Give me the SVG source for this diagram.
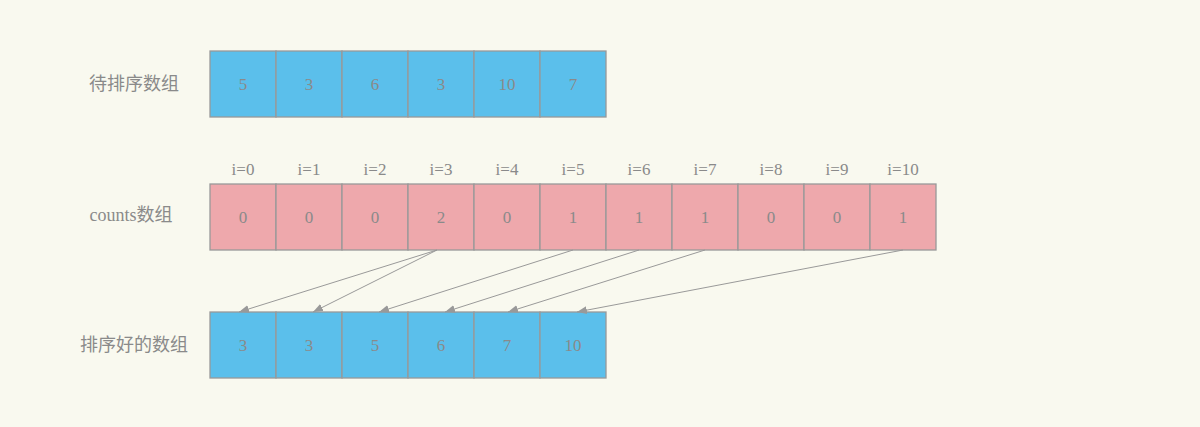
<svg xmlns="http://www.w3.org/2000/svg" width="1200" height="427" viewBox="0 0 1200 427">
<defs>
<marker id="arr" viewBox="0 0 10 10" refX="10" refY="5" markerWidth="10" markerHeight="10" markerUnits="userSpaceOnUse" orient="auto">
<path d="M0,1 L10,5 L0,9 Z" fill="#999999"/>
</marker>
<style>
.b{fill:#5BBFEB;stroke:#999999;stroke-width:1.3}
.p{fill:#EEA8AC;stroke:#999999;stroke-width:1.3}
.t{font-family:"Liberation Serif","Noto Sans CJK SC",serif;font-size:17px;fill:#8a8a8a;text-anchor:middle;dominant-baseline:central}
.l{font-family:"Liberation Serif","Noto Sans CJK SC",serif;font-size:18px;fill:#8a8a8a;text-anchor:middle;dominant-baseline:central}
.c{stroke:#999999;stroke-width:1;fill:none;marker-end:url(#arr)}
</style>
</defs>
<rect width="1200" height="427" fill="#F9F9EF"/>
<text class="l" x="134" y="84">待排序数组</text>
<text class="l" x="131" y="215">counts数组</text>
<text class="l" x="134" y="345">排序好的数组</text>
<g id="input">
<rect class="b" x="210" y="51" width="66" height="66"/><text class="t" x="243" y="84">5</text>
<rect class="b" x="276" y="51" width="66" height="66"/><text class="t" x="309" y="84">3</text>
<rect class="b" x="342" y="51" width="66" height="66"/><text class="t" x="375" y="84">6</text>
<rect class="b" x="408" y="51" width="66" height="66"/><text class="t" x="441" y="84">3</text>
<rect class="b" x="474" y="51" width="66" height="66"/><text class="t" x="507" y="84">10</text>
<rect class="b" x="540" y="51" width="66" height="66"/><text class="t" x="573" y="84">7</text>
</g>
<g id="counts">
<text class="t" x="243" y="169">i=0</text>
<text class="t" x="309" y="169">i=1</text>
<text class="t" x="375" y="169">i=2</text>
<text class="t" x="441" y="169">i=3</text>
<text class="t" x="507" y="169">i=4</text>
<text class="t" x="573" y="169">i=5</text>
<text class="t" x="639" y="169">i=6</text>
<text class="t" x="705" y="169">i=7</text>
<text class="t" x="771" y="169">i=8</text>
<text class="t" x="837" y="169">i=9</text>
<text class="t" x="903" y="169">i=10</text>
<rect class="p" x="210" y="184" width="66" height="66"/><text class="t" x="243" y="217">0</text>
<rect class="p" x="276" y="184" width="66" height="66"/><text class="t" x="309" y="217">0</text>
<rect class="p" x="342" y="184" width="66" height="66"/><text class="t" x="375" y="217">0</text>
<rect class="p" x="408" y="184" width="66" height="66"/><text class="t" x="441" y="217">2</text>
<rect class="p" x="474" y="184" width="66" height="66"/><text class="t" x="507" y="217">0</text>
<rect class="p" x="540" y="184" width="66" height="66"/><text class="t" x="573" y="217">1</text>
<rect class="p" x="606" y="184" width="66" height="66"/><text class="t" x="639" y="217">1</text>
<rect class="p" x="672" y="184" width="66" height="66"/><text class="t" x="705" y="217">1</text>
<rect class="p" x="738" y="184" width="66" height="66"/><text class="t" x="771" y="217">0</text>
<rect class="p" x="804" y="184" width="66" height="66"/><text class="t" x="837" y="217">0</text>
<rect class="p" x="870" y="184" width="66" height="66"/><text class="t" x="903" y="217">1</text>
</g>
<g id="sorted">
<rect class="b" x="210" y="312" width="66" height="66"/><text class="t" x="243" y="345">3</text>
<rect class="b" x="276" y="312" width="66" height="66"/><text class="t" x="309" y="345">3</text>
<rect class="b" x="342" y="312" width="66" height="66"/><text class="t" x="375" y="345">5</text>
<rect class="b" x="408" y="312" width="66" height="66"/><text class="t" x="441" y="345">6</text>
<rect class="b" x="474" y="312" width="66" height="66"/><text class="t" x="507" y="345">7</text>
<rect class="b" x="540" y="312" width="66" height="66"/><text class="t" x="573" y="345">10</text>
</g>
<g id="connectors">
<line class="c" x1="437" y1="250" x2="239" y2="312"/>
<line class="c" x1="437" y1="250" x2="313" y2="312"/>
<line class="c" x1="573" y1="250" x2="379" y2="312"/>
<line class="c" x1="639" y1="250" x2="445" y2="312"/>
<line class="c" x1="705" y1="250" x2="508" y2="312"/>
<line class="c" x1="903" y1="250" x2="577" y2="312"/>
</g>
</svg>
